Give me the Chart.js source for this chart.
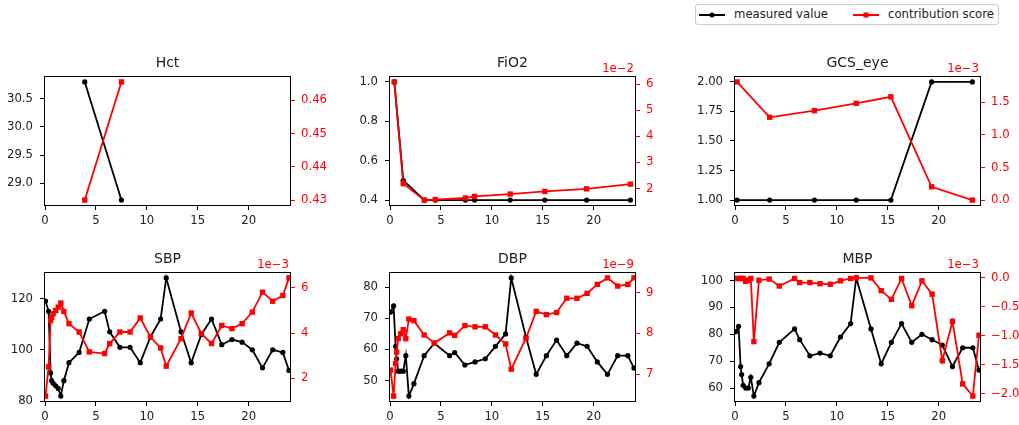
<!DOCTYPE html>
<html>
<head>
<meta charset="utf-8">
<script src="https://cdn.jsdelivr.net/npm/chart.js@4.4.1/dist/chart.umd.min.js"></script>
<style>
  html, body { margin: 0; padding: 0; background: #fff; overflow: hidden; }
  body { width: 1019px; height: 425px; position: relative; font-family: 'DejaVu Sans', sans-serif; }
  .panel { position: absolute; width: 335px; height: 192px; }
  .legend { position: absolute; left: 695px; top: 4px; width: 304px; height: 21px; border: 1px solid #ccc;
            border-radius: 3px; box-sizing: border-box; font-size: 11.7px; color: #222; }
  .item { position: absolute; top: 0; line-height: 19px; white-space: nowrap; }
  .swatch { display: inline-block; position: relative; width: 26px; height: 2px; vertical-align: middle; margin-right: 9px; }
  .swatch i { position: absolute; left: 50%; top: 50%; transform: translate(-50%, -50%); }
</style>
</head>
<body>

<div class="legend">
  <div class="item" style="left:3px"><span class="swatch" style="background:#000"><i style="width:5px;height:5px;border-radius:50%;background:#000"></i></span>measured value</div>
  <div class="item" style="left:157px"><span class="swatch" style="background:#f00"><i style="width:5px;height:5px;background:#f00"></i></span>contribution score</div>
</div>

<div class="panel" style="left:0;top:36px"><canvas id="hct"></canvas></div>
<div class="panel" style="left:345px;top:36px"><canvas id="fio2"></canvas></div>
<div class="panel" style="left:690px;top:36px"><canvas id="gcs"></canvas></div>
<div class="panel" style="left:0;top:232px"><canvas id="sbp"></canvas></div>
<div class="panel" style="left:345px;top:232px"><canvas id="dbp"></canvas></div>
<div class="panel" style="left:690px;top:232px"><canvas id="mbp"></canvas></div>

<script>
/* ---------- DATA (hours since admission) ---------- */
const xTicks = [0, 5, 10, 15, 20];

const hctTime  = [3.9, 7.5];
const hctValue = [30.8, 28.7];
const hctScore = [0.430, 0.4655];
const hctValueTicks = [29.0, 29.5, 30.0, 30.5];
const hctScoreTicks = [0.43, 0.44, 0.45, 0.46];

const fio2Time  = [0.42, 1.3, 3.37, 4.45, 7.4, 8.3, 11.8, 15.2, 19.3, 23.6];
const fio2Value = [1.0, 0.5, 0.4, 0.4, 0.4, 0.4, 0.4, 0.4, 0.4, 0.4];
const fio2Score = [6.08e-2, 2.19e-2, 1.56e-2, 1.58e-2, 1.64e-2, 1.70e-2, 1.79e-2, 1.89e-2, 1.99e-2, 2.17e-2];
const fio2ValueTicks = [0.4, 0.6, 0.8, 1.0];
const fio2ScoreTicks = [2e-2, 3e-2, 4e-2, 5e-2, 6e-2];

const gcsTime  = [0.2, 3.4, 7.8, 11.9, 15.3, 19.3, 23.3];
const gcsValue = [1, 1, 1, 1, 1, 2, 2];
const gcsScore = [1.815e-3, 1.272e-3, 1.373e-3, 1.486e-3, 1.586e-3, 0.204e-3, 0];
const gcsValueTicks = [1.0, 1.25, 1.5, 1.75, 2.0];
const gcsScoreTicks = [0, 0.5e-3, 1.0e-3, 1.5e-3];

// blood pressure readings share one time grid
const bpTime = [0.05, 0.35, 0.55, 0.65, 0.8, 1.05, 1.3, 1.55, 1.85, 2.35, 3.35, 4.35, 5.85, 6.35, 7.35, 8.35,
                9.35, 10.35, 11.35, 11.9, 13.35, 14.35, 15.35, 16.35, 17.35, 18.35, 19.35, 20.35, 21.35, 22.35, 23.35, 23.95];

const sbpValue = [119, 115, 91, 88, 87, 86, 85, 82, 88, 95, 99, 112, 115, 107, 101, 101,
                  95, 105, 112, 128, 107, 95, 106, 112, 102, 104, 103, 100, 93, 100, 99, 92];
const sbpScore = [1.22e-3, 2.51e-3, 4.56e-3, 4.70e-3, 4.86e-3, 5.00e-3, 5.15e-3, 5.33e-3, 4.96e-3, 4.42e-3, 4.05e-3, 3.17e-3, 3.10e-3, 3.54e-3, 4.05e-3, 4.05e-3,
                  4.67e-3, 3.83e-3, 3.35e-3, 2.54e-3, 3.76e-3, 4.89e-3, 3.98e-3, 3.54e-3, 4.34e-3, 4.20e-3, 4.42e-3, 4.93e-3, 5.81e-3, 5.41e-3, 5.66e-3, 6.44e-3];
const sbpValueTicks = [80, 100, 120];
const sbpScoreTicks = [2e-3, 4e-3, 6e-3];

const dbpValue = [72, 74, 61, 57, 53, 53, 53, 58, 45, 49, 58, 62, 58, 59, 55, 56,
                  57, 61, 65, 83, 64, 52, 58, 63, 58, 62, 61, 56, 52, 58, 58, 54];
const dbpScore = [7.10e-9, 6.46e-9, 7.26e-9, 7.54e-9, 7.87e-9, 7.99e-9, 8.09e-9, 7.87e-9, 8.35e-9, 8.31e-9, 7.96e-9, 7.76e-9, 8.01e-9, 7.95e-9, 8.19e-9, 8.16e-9,
                  8.16e-9, 7.96e-9, 7.74e-9, 7.12e-9, 7.88e-9, 8.54e-9, 8.46e-9, 8.51e-9, 8.86e-9, 8.86e-9, 8.98e-9, 9.20e-9, 9.36e-9, 9.16e-9, 9.20e-9, 9.36e-9];
const dbpValueTicks = [50, 60, 70, 80];
const dbpScoreTicks = [7e-9, 8e-9, 9e-9];

const mbpValue = [81, 83, 68, 65, 61, 60, 60, 64, 57, 62, 69, 77, 82, 78, 72, 73,
                  72, 79, 84, 101, 82, 69, 77, 84, 77, 80, 78, 76, 68, 75, 75, 66.7];
const mbpScore = [-0.01e-3, -0.01e-3, -0.01e-3, -0.01e-3, -0.01e-3, -0.06e-3, -0.04e-3, -0.01e-3, -1.10e-3, -0.04e-3, -0.02e-3, -0.14e-3, -0.01e-3, -0.08e-3, -0.08e-3, -0.10e-3,
                  -0.11e-3, -0.05e-3, -0.01e-3, 0, 0, -0.22e-3, -0.37e-3, -0.01e-3, -0.48e-3, -0.05e-3, -0.28e-3, -1.43e-3, -0.75e-3, -1.83e-3, -2.04e-3, -0.99e-3];
const mbpValueTicks = [60, 70, 80, 90, 100];
const mbpScoreTicks = [-2.0e-3, -1.5e-3, -1.0e-3, -0.5e-3, 0];

/* ---------- PANELS ---------- */
const panels = [
  { id: 'hct',  title: 'Hct',     time: hctTime,  value: hctValue,  score: hctScore,  vTicks: hctValueTicks,  vDec: 1, sTicks: hctScoreTicks,  sDec: 2, exp: 0 },
  { id: 'fio2', title: 'FiO2',    time: fio2Time, value: fio2Value, score: fio2Score, vTicks: fio2ValueTicks, vDec: 1, sTicks: fio2ScoreTicks, sDec: 0, exp: -2 },
  { id: 'gcs',  title: 'GCS_eye', time: gcsTime,  value: gcsValue,  score: gcsScore,  vTicks: gcsValueTicks,  vDec: 2, sTicks: gcsScoreTicks,  sDec: 1, exp: -3 },
  { id: 'sbp',  title: 'SBP',     time: bpTime,   value: sbpValue,  score: sbpScore,  vTicks: sbpValueTicks,  vDec: 0, sTicks: sbpScoreTicks,  sDec: 0, exp: -3 },
  { id: 'dbp',  title: 'DBP',     time: bpTime,   value: dbpValue,  score: dbpScore,  vTicks: dbpValueTicks,  vDec: 0, sTicks: dbpScoreTicks,  sDec: 0, exp: -9 },
  { id: 'mbp',  title: 'MBP',     time: bpTime,   value: mbpValue,  score: mbpScore,  vTicks: mbpValueTicks,  vDec: 0, sTicks: mbpScoreTicks,  sDec: 1, exp: -3 }
];

const FONT = { family: 'DejaVu Sans', size: 11.7 };
const INK = '#222';

/* ---------- HELPERS ---------- */
function fmt(v, dec, exp) {
  const s = (v / Math.pow(10, exp)).toFixed(dec);
  return s === '-0' || /^-0\.0+$/.test(s) ? s.slice(1) : s.replace('-', '\u2212');
}

// matplotlib-style 5% autoscale margins
function padRange(arr) {
  const lo = Math.min(...arr), hi = Math.max(...arr);
  const m = (hi - lo) * 0.05 || 0.5;
  return { min: lo - m, max: hi + m };
}

function fixedTicks(values) {
  return scale => { scale.ticks = values.map(v => ({ value: v })); };
}

// box around the axes + the "1e-3" offset label
const framePlugin = {
  id: 'frame',
  afterDraw(chart, args, opts) {
    const { ctx, chartArea: a } = chart;
    ctx.save();
    ctx.strokeStyle = '#000';
    ctx.lineWidth = 1;
    ctx.strokeRect(Math.round(a.left) + 0.5, Math.round(a.top) + 0.5,
                   Math.round(a.right - a.left) - 1, Math.round(a.bottom - a.top) - 1);
    if (opts.offset) {
      ctx.fillStyle = '#ff0000';
      ctx.font = `${FONT.size}px "${FONT.family}"`;
      ctx.textAlign = 'right';
      ctx.textBaseline = 'alphabetic';
      ctx.fillText(opts.offset, a.right - 2, a.top - 4);
    }
    ctx.restore();
  }
};

/* ---------- BUILD ---------- */
panels.forEach(p => {
  const vr = padRange(p.value);
  const sr = padRange(p.score);
  const ctx = document.getElementById(p.id).getContext('2d');

  new Chart(ctx, {
    type: 'line',
    data: {
      datasets: [
        {
          label: 'measured value',
          data: p.time.map((t, i) => ({ x: t, y: p.value[i] })),
          yAxisID: 'y',
          order: 1,
          borderColor: '#000',
          backgroundColor: '#000',
          borderWidth: 1.8,
          tension: 0,
          pointStyle: 'circle',
          pointRadius: 2.6,
          pointBorderWidth: 0
        },
        {
          label: 'contribution score',
          data: p.time.map((t, i) => ({ x: t, y: p.score[i] })),
          yAxisID: 'y1',
          order: 0,
          borderColor: '#ff0000',
          backgroundColor: '#ff0000',
          borderWidth: 1.8,
          tension: 0,
          pointStyle: 'rect',
          pointRadius: 3.8,
          pointBorderWidth: 0
        }
      ]
    },
    options: {
      responsive: true,
      maintainAspectRatio: false,
      animation: false,
      events: [],
      layout: { padding: 0, autoPadding: false },
      plugins: {
        legend: { display: false },
        tooltip: { enabled: false },
        title: {
          display: true,
          text: p.title,
          color: INK,
          font: { family: FONT.family, size: 14, weight: 'normal', lineHeight: 1.2 },
          padding: { top: 19, bottom: 4.2 }
        },
        frame: { offset: p.exp ? `1e\u2212${-p.exp}` : '' }
      },
      scales: {
        x: {
          type: 'linear',
          min: -0.1,
          max: 24.15,
          afterBuildTicks: fixedTicks(xTicks),
          afterFit: s => { s.height = 22; },
          ticks: { color: INK, font: FONT, padding: 4, maxRotation: 0 },
          grid: { drawOnChartArea: false, drawTicks: true, tickLength: 4, color: '#000' },
          border: { display: false }
        },
        y: {
          position: 'left',
          min: vr.min,
          max: vr.max,
          afterBuildTicks: fixedTicks(p.vTicks),
          afterFit: s => { s.width = 44; },
          ticks: { color: INK, font: FONT, padding: 7, callback: v => fmt(v, p.vDec, 0) },
          grid: { drawOnChartArea: false, drawTicks: true, tickLength: 4, color: '#000' },
          border: { display: false }
        },
        y1: {
          position: 'right',
          min: sr.min,
          max: sr.max,
          afterBuildTicks: fixedTicks(p.sTicks),
          afterFit: s => { s.width = 44; },
          ticks: { color: '#ff0000', font: FONT, padding: 6, callback: v => fmt(v, p.sDec, p.exp) },
          grid: { drawOnChartArea: false, drawTicks: true, tickLength: 4, color: '#ff0000' },
          border: { display: false }
        }
      }
    },
    plugins: [framePlugin]
  });
});
</script>
</body>
</html>
